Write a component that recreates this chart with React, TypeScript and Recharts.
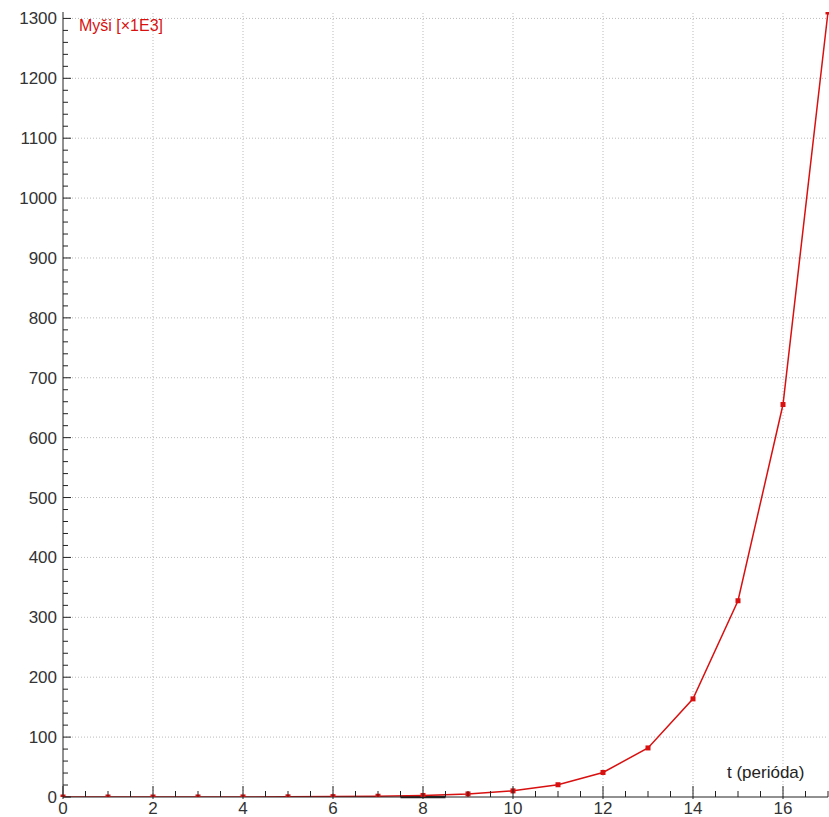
import { LineChart, Line, XAxis, YAxis, ReferenceLine } from 'recharts';

// t (perióda) and mice population in thousands
const PERIODS = [0, 1, 2, 3, 4, 5, 6, 7, 8, 9, 10, 11, 12, 13, 14, 15, 16, 17];
const MICE = [0.01, 0.02, 0.04, 0.08, 0.16, 0.32, 0.64, 1.28, 2.56, 5.12, 10.24, 20.48, 40.96, 81.92, 163.84, 327.68, 655.36, 1310.72];

const X_TICKS = [0, 0.5, 1, 1.5, 2, 2.5, 3, 3.5, 4, 4.5, 5, 5.5, 6, 6.5, 7, 7.5, 8, 8.5, 9, 9.5, 10, 10.5, 11, 11.5, 12, 12.5, 13, 13.5, 14, 14.5, 15, 15.5, 16, 16.5, 17];
const X_GRID = [2, 4, 6, 8, 10, 12, 14, 16];
const Y_TICKS = Array.from({ length: 66 }, (_, i) => i * 20);
const Y_GRID = [100, 200, 300, 400, 500, 600, 700, 800, 900, 1000, 1100, 1200, 1300];
const HIGHLIGHT = [7.5, 8.5];

const RED = '#d81010';
const AXIS = '#222';
const FONT = '"Liberation Sans", Arial, sans-serif';

const data = PERIODS.map((t, i) => ({ t, mice: MICE[i] }));

const XTick = ({ x, y, payload }: any) => {
  const v = payload.value;
  const major = v % 2 === 0;
  return (
    <g>
      <line x1={x} x2={x} y1={y - (major ? 11 : 6)} y2={y + (major ? 2 : 0)} stroke={AXIS} strokeWidth={1} />
      {major && (
        <text x={x} y={y + 17} textAnchor="middle" fontSize={17} fill="#333" fontFamily={FONT}>
          {v}
        </text>
      )}
    </g>
  );
};

const YTick = ({ x, y, payload }: any) => {
  const v = payload.value;
  const major = v % 100 === 0;
  return (
    <g>
      <line x1={x} x2={x + (major ? 8 : 5)} y1={y} y2={y} stroke={AXIS} strokeWidth={1} />
      {major && (
        <text x={x - 6} y={y + 6} textAnchor="end" fontSize={17} fill="#333" fontFamily={FONT}>
          {v}
        </text>
      )}
    </g>
  );
};

const SquareDot = ({ cx, cy, index }: any) => (
  <rect key={`dot-${index}`} x={cx - 2.5} y={cy - 2.5} width={5} height={5} fill={RED} />
);

const App = () => {
  return (
    <div style={{ position: 'absolute', left: 0, top: 0, width: 829, height: 817, background: '#fff', fontFamily: FONT }}>
      <LineChart width={829} height={817} data={data} margin={{ top: 12, right: 1, left: 0, bottom: 0 }}>
        {X_GRID.map((v) => (
          <ReferenceLine key={`gx-${v}`} x={v} stroke="#bbb" strokeDasharray="1 2" />
        ))}
        {Y_GRID.map((v) => (
          <ReferenceLine key={`gy-${v}`} y={v} stroke="#bbb" strokeDasharray="1 2" />
        ))}
        <XAxis
          dataKey="t"
          type="number"
          domain={[0, 17]}
          ticks={X_TICKS}
          interval={0}
          tickSize={0}
          tickMargin={0}
          tickLine={false}
          tick={<XTick />}
          height={20}
          axisLine={{ stroke: AXIS }}
        />
        <YAxis
          type="number"
          domain={[0, 1310.72]}
          ticks={Y_TICKS}
          interval={0}
          tickSize={0}
          tickMargin={0}
          tickLine={false}
          tick={<YTick />}
          width={63}
          axisLine={{ stroke: AXIS }}
          allowDataOverflow
        />
        <ReferenceLine
          segment={[{ x: HIGHLIGHT[0], y: 0 }, { x: HIGHLIGHT[1], y: 0 }]}
          stroke={AXIS}
          strokeWidth={2.5}
        />
        <Line
          type="linear"
          dataKey="mice"
          stroke={RED}
          strokeWidth={1.5}
          dot={SquareDot}
          activeDot={false}
          isAnimationActive={false}
        />
      </LineChart>
      <div style={{ position: 'absolute', left: 79, top: 17, color: RED, fontSize: 16 }}>Myši [×1E3]</div>
      <div style={{ position: 'absolute', left: 727, top: 763, color: '#222', fontSize: 17 }}>t (perióda)</div>
    </div>
  );
};

export default App;
